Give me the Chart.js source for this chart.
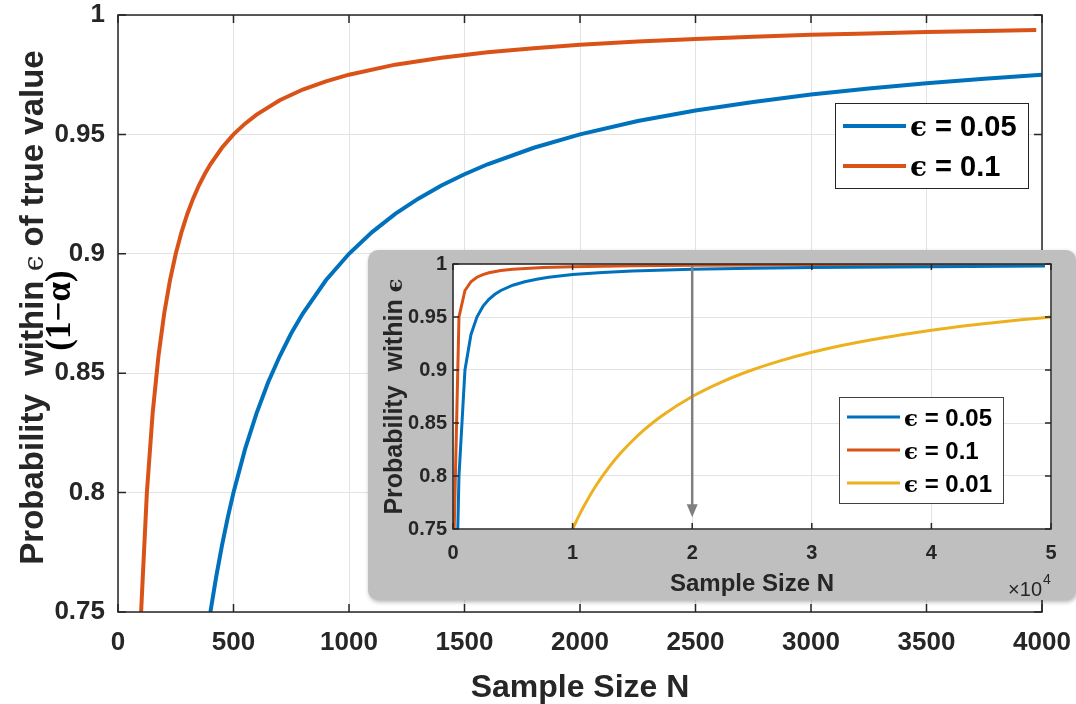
<!DOCTYPE html>
<html>
<head>
<meta charset="utf-8">
<script src="https://cdn.jsdelivr.net/npm/chart.js@4.4.0/dist/chart.umd.min.js"></script>
<style>
  html, body { margin: 0; padding: 0; background: #fff; }
  #wrap { position: relative; width: 1076px; height: 704px; overflow: hidden; }
  #main { position: absolute; left: 0; top: 0; }
  #insetBox {
    position: absolute; left: 368px; top: 250px; width: 708px; height: 350px;
    background: #bfbfbf; border-radius: 10px; box-shadow: 1px 2px 4px rgba(0,0,0,0.3);
  }
  #inset { position: absolute; left: 0; top: 0; }
</style>
</head>
<body>
<div id="wrap">
  <canvas id="main" width="1076" height="704"></canvas>
  <div id="insetBox"><canvas id="inset" width="708" height="350"></canvas></div>
</div>
<script>
// main plot, epsilon = 0.05
const nBlue = [400, 425, 450, 475, 500, 550, 600, 650, 700, 750, 800, 900, 1000, 1100, 1200, 1300, 1400, 1500,
  1600, 1800, 2000, 2250, 2500, 2750, 3000, 3250, 3500, 3750, 4000];
const pBlue = [0.75, 0.7647, 0.7778, 0.7895, 0.8, 0.8182, 0.8333, 0.8462, 0.8571, 0.8667, 0.875, 0.8889, 0.9, 0.9091,
  0.9167, 0.9231, 0.9286, 0.9333, 0.9375, 0.9444, 0.95, 0.9556, 0.96, 0.9636, 0.9667, 0.9692, 0.9714, 0.9733, 0.975];
// main plot, epsilon = 0.1
const nOrange = [100, 125, 150, 175, 200, 225, 250, 275, 300, 325, 350, 375, 400, 450, 500, 550, 600, 700, 800, 900,
  1000, 1200, 1400, 1600, 1800, 2000, 2250, 2500, 2750, 3000, 3250, 3500, 3750, 3975];
const pOrange = [0.75, 0.8, 0.8333, 0.8571, 0.875, 0.8889, 0.9, 0.9091, 0.9167, 0.9231, 0.9286, 0.9333, 0.9375, 0.9444,
  0.95, 0.9545, 0.9583, 0.9643, 0.9688, 0.9722, 0.975, 0.9792, 0.9821, 0.9844, 0.9861, 0.9875, 0.9889, 0.99, 0.9909,
  0.9917, 0.9923, 0.9929, 0.9933, 0.9937];

// inset
const nInsetBlue = [400, 500, 1000, 1500, 2000, 2500, 3000, 3500, 4000, 5000, 6000, 7000, 8000, 10000, 12500, 15000,
  20000, 25000, 30000, 40000, 49500];
const pInsetBlue = [0.75, 0.8, 0.9, 0.9333, 0.95, 0.96, 0.9667, 0.9714, 0.975, 0.98, 0.9833, 0.9857, 0.9875, 0.99,
  0.992, 0.9933, 0.995, 0.996, 0.9967, 0.9975, 0.998];
const nInsetOrange = [100, 500, 1000, 1500, 2000, 2500, 3000, 4000, 5000, 7500, 10000, 15000, 20000, 30000, 40000, 49500];
const pInsetOrange = [0.75, 0.95, 0.975, 0.9833, 0.9875, 0.99, 0.9917, 0.9938, 0.995, 0.9967, 0.9975, 0.9983, 0.9988,
  0.9992, 0.9994, 0.9995];
const nYellow = [10000, 10500, 11000, 12000, 13000, 14000, 15000, 16000, 17500, 20000, 22500, 25000, 27500, 30000,
  32500, 35000, 37500, 40000, 42500, 45000, 47500, 50000];
const pYellow = [0.75, 0.7619, 0.7727, 0.7917, 0.8077, 0.8214, 0.8333, 0.8438, 0.8571, 0.875, 0.8889, 0.9, 0.9091,
  0.9167, 0.9231, 0.9286, 0.9333, 0.9375, 0.9412, 0.9444, 0.9474, 0.95];

const mainLabels = ['ϵ = 0.05', 'ϵ = 0.1'];
const insetLabels = ['ϵ = 0.05', 'ϵ = 0.1', 'ϵ = 0.01'];
const arrowN = 20000, arrowFrom = 0.999, arrowTo = 0.761;

const BLUE = '#0072BD', ORANGE = '#D95319', YELLOW = '#EDB120', INK = '#262626';
const SANS = '"Liberation Sans", Arial, Helvetica, sans-serif';
const SERIF = '"DejaVu Serif", "Liberation Serif", serif';
const TIMES = '"Liberation Serif", "Times New Roman", serif';

const pts = (xs, ys) => xs.map((x, i) => ({ x: x, y: ys[i] }));

// draw text made of pieces in different fonts, on one baseline
function drawRuns(ctx, runs, x, y, align) {
  let total = 0;
  runs.forEach(r => { ctx.font = r[1]; total += ctx.measureText(r[0]).width; });
  let cx = align === 'center' ? x - total / 2 : (align === 'right' ? x - total : x);
  ctx.textAlign = 'left';
  ctx.textBaseline = 'alphabetic';
  runs.forEach(r => { ctx.font = r[1]; ctx.fillText(r[0], cx, y); cx += ctx.measureText(r[0]).width; });
}

function epsRuns(label, size) {
  return [['ϵ', 'bold ' + (size - 1) + 'px ' + SERIF], [label.slice(1), 'bold ' + size + 'px ' + SANS]];
}

function drawLegend(ctx, box, labels, colors, size, lw) {
  ctx.save();
  ctx.fillStyle = '#fff';
  ctx.fillRect(box.x, box.y, box.w, box.h);
  ctx.strokeStyle = box.border;
  ctx.lineWidth = 1;
  ctx.strokeRect(box.x + 0.5, box.y + 0.5, box.w, box.h);
  labels.forEach((lab, i) => {
    const yy = box.y + box.first + i * box.step;
    ctx.strokeStyle = colors[i];
    ctx.lineWidth = lw;
    ctx.beginPath();
    ctx.moveTo(box.x + 8, yy);
    ctx.lineTo(box.x + 8 + box.line, yy);
    ctx.stroke();
    ctx.fillStyle = '#000';
    drawRuns(ctx, epsRuns(lab, size), box.x + 12 + box.line, yy + size * 0.36, 'left');
  });
  ctx.restore();
}

// white plot area, box and inward ticks like the original
function axesPlugin(tick, fillArea, extra) {
  return {
    id: 'axesBox',
    beforeDraw(chart) {
      if (!fillArea) return;
      const a = chart.chartArea, ctx = chart.ctx;
      ctx.save();
      ctx.fillStyle = '#fff';
      ctx.fillRect(a.left, a.top, a.right - a.left, a.bottom - a.top);
      ctx.restore();
    },
    afterDatasetsDraw(chart) {
      const a = chart.chartArea, ctx = chart.ctx;
      ctx.save();
      ctx.strokeStyle = INK;
      ctx.lineWidth = 1.5;
      ctx.strokeRect(a.left, a.top, a.right - a.left, a.bottom - a.top);
      ctx.beginPath();
      chart.scales.x.ticks.forEach(t => {
        const px = chart.scales.x.getPixelForValue(t.value);
        ctx.moveTo(px, a.bottom); ctx.lineTo(px, a.bottom - tick);
        ctx.moveTo(px, a.top); ctx.lineTo(px, a.top + tick);
      });
      chart.scales.y.ticks.forEach(t => {
        const py = chart.scales.y.getPixelForValue(t.value);
        ctx.moveTo(a.left, py); ctx.lineTo(a.left + tick, py);
        ctx.moveTo(a.right, py); ctx.lineTo(a.right - tick, py);
      });
      ctx.stroke();
      ctx.restore();
    },
    afterDraw(chart) { extra(chart); }
  };
}

function lineSet(data, color, width, smooth) {
  return {
    data: data, borderColor: color, borderWidth: width, pointRadius: 0,
    fill: false, tension: 0, cubicInterpolationMode: smooth ? 'monotone' : 'default'
  };
}

const yTickFmt = v => String(+v.toFixed(2));
// fixed axis sizes, and no extra room for overhanging end labels
const fitX = h => s => { s.height = h; s.paddingLeft = 0; s.paddingRight = 0; };
const fitY = w => s => { s.width = w; s.paddingTop = 0; s.paddingBottom = 0; };

new Chart(document.getElementById('main'), {
  type: 'line',
  data: { datasets: [lineSet(pts(nBlue, pBlue), BLUE, 4, false), lineSet(pts(nOrange, pOrange), ORANGE, 4, false)] },
  options: {
    responsive: false, animation: false, devicePixelRatio: 1,
    layout: { padding: { left: 0, top: 15, right: 34, bottom: 0 } },
    plugins: { legend: { display: false }, tooltip: { enabled: false } },
    scales: {
      x: {
        type: 'linear', min: 0, max: 4000,
        ticks: { stepSize: 500, color: INK, padding: 15, maxRotation: 0, callback: v => String(v),
          font: { family: SANS, size: 26, weight: 'bold' } },
        grid: { color: '#e3e3e3', drawTicks: false },
        border: { display: false },
        afterFit: fitX(92)
      },
      y: {
        min: 0.75, max: 1,
        ticks: { stepSize: 0.05, color: INK, padding: 13, callback: yTickFmt, font: { family: SANS, size: 26, weight: 'bold' } },
        grid: { color: '#e3e3e3', drawTicks: false },
        border: { display: false },
        afterFit: fitY(118)
      }
    }
  },
  plugins: [axesPlugin(8, false, chart => {
    const a = chart.chartArea, ctx = chart.ctx;
    ctx.save();
    ctx.fillStyle = INK;
    drawRuns(ctx, [['Sample Size N', 'bold 32px ' + SANS]], (a.left + a.right) / 2, 697, 'center');
    ctx.translate(43, (a.top + a.bottom) / 2 - 6);
    ctx.rotate(-Math.PI / 2);
    drawRuns(ctx, [['Probability  within ', 'bold 33px ' + SANS], ['ϵ', '28px ' + SERIF],
      [' of true value', 'bold 33px ' + SANS]], 0, 0, 'center');
    ctx.fillStyle = '#000';
    drawRuns(ctx, [['(1−α)', 'bold 35px ' + TIMES]], -3, 27, 'center');
    ctx.restore();
    drawLegend(ctx, { x: a.right - 207, y: a.top + 88, w: 193, h: 85, first: 23, step: 40, line: 63, border: INK },
      mainLabels, [BLUE, ORANGE], 29, 4);
  })]
});

new Chart(document.getElementById('inset'), {
  type: 'line',
  data: {
    datasets: [
      lineSet(pts(nInsetBlue, pInsetBlue), BLUE, 3, false),
      lineSet(pts(nInsetOrange, pInsetOrange), ORANGE, 3, false),
      lineSet(pts(nYellow, pYellow), YELLOW, 3, true)
    ]
  },
  options: {
    responsive: false, animation: false, devicePixelRatio: 1,
    layout: { padding: { left: 0, top: 14, right: 25, bottom: 0 } },
    plugins: { legend: { display: false }, tooltip: { enabled: false } },
    scales: {
      x: {
        type: 'linear', min: 0, max: 50000,
        ticks: { stepSize: 10000, color: INK, padding: 12, maxRotation: 0, callback: v => String(v / 10000),
          font: { family: SANS, size: 20, weight: 'bold' } },
        grid: { color: '#e3e3e3', drawTicks: false },
        border: { display: false },
        afterFit: fitX(71)
      },
      y: {
        min: 0.75, max: 1,
        ticks: { stepSize: 0.05, color: INK, padding: 6, callback: yTickFmt, font: { family: SANS, size: 20, weight: 'bold' } },
        grid: { color: '#e3e3e3', drawTicks: false },
        border: { display: false },
        afterFit: fitY(85)
      }
    }
  },
  plugins: [axesPlugin(6, true, chart => {
    const a = chart.chartArea, ctx = chart.ctx, xs = chart.scales.x, ys = chart.scales.y;
    ctx.save();
    // arrow at N = 2e4
    const ax = xs.getPixelForValue(arrowN), y0 = ys.getPixelForValue(arrowFrom), y1 = ys.getPixelForValue(arrowTo);
    ctx.strokeStyle = '#808080';
    ctx.fillStyle = '#808080';
    ctx.lineWidth = 2.5;
    ctx.beginPath(); ctx.moveTo(ax, y0); ctx.lineTo(ax, y1 - 12); ctx.stroke();
    ctx.beginPath(); ctx.moveTo(ax - 5.5, y1 - 13); ctx.lineTo(ax + 5.5, y1 - 13); ctx.lineTo(ax, y1); ctx.closePath(); ctx.fill();

    ctx.fillStyle = INK;
    drawRuns(ctx, [['Sample Size N', 'bold 24px ' + SANS]], (a.left + a.right) / 2, 341, 'center');
    drawRuns(ctx, [['×10', '20px ' + SANS]], a.right - 9, 346, 'right');
    ctx.font = '14px ' + SANS;
    ctx.textAlign = 'left';
    ctx.fillText('4', a.right - 8, 334);
    ctx.translate(25, (a.top + a.bottom) / 2);
    ctx.rotate(-Math.PI / 2);
    drawRuns(ctx, [['Probability  within ', 'bold 25px ' + SANS], ['ϵ', 'bold 23px ' + SERIF]], 0, 9, 'center');
    ctx.restore();
    drawLegend(ctx, { x: 471, y: 147, w: 164, h: 106, first: 20, step: 33, line: 53, border: '#404040' },
      insetLabels, [BLUE, ORANGE, YELLOW], 24, 3);
  })]
});
</script>
</body>
</html>
